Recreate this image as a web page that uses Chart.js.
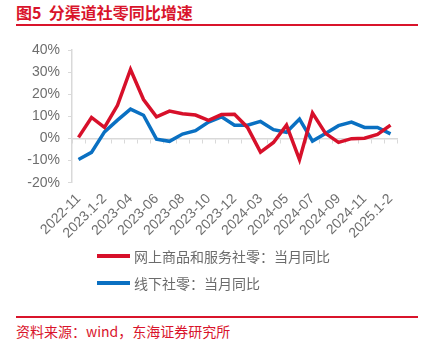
<!DOCTYPE html>
<html>
<head>
<meta charset="utf-8">
<script src="https://cdn.jsdelivr.net/npm/chart.js@4/dist/chart.umd.min.js"></script>
<style>
  html, body { margin: 0; padding: 0; background: #fff; }
  body { width: 429px; height: 340px; position: relative; overflow: hidden;
         font-family: "Noto Sans CJK SC", "Liberation Sans", sans-serif; }
  #title { position: absolute; left: 16px; top: 1px; font-size: 16px; font-weight: bold;
           color: #d9142b; white-space: pre; line-height: 22px; }
  .rule { position: absolute; left: 16px; width: 402px; height: 1.5px; background: #d9142b; }
  #chartBox { position: absolute; left: 0; top: 0; width: 429px; height: 250px; }
  #legend { position: absolute; left: 97px; top: 243px; }
  .lg-item { display: flex; align-items: center; height: 26.5px; font-size: 14px; color: #6b6b6b; }
  .lg-swatch { width: 33px; height: 4px; margin-right: 4px; }
  #source { position: absolute; left: 16px; top: 321px; font-size: 14px; color: #d9142b;
            line-height: 20px; white-space: pre; }
</style>
</head>
<body>
<div id="title">图5  分渠道社零同比增速</div>
<div class="rule" style="top:24px"></div>
<div id="chartBox"><canvas id="c" width="429" height="250"></canvas></div>
<div id="legend"></div>
<div class="rule" style="top:316px"></div>
<div id="source">资料来源：wind，东海证券研究所</div>
<script>
// Months (Jan–Feb are reported together)
const categories = [
  '2022-11', '2022-12', '2023.1-2', '2023-03', '2023-04', '2023-05', '2023-06',
  '2023-07', '2023-08', '2023-09', '2023-10', '2023-11', '2023-12', '2024.1-2',
  '2024-03', '2024-04', '2024-05', '2024-06', '2024-07', '2024-08', '2024-09',
  '2024-10', '2024-11', '2024-12', '2025.1-2'
];

// Year-on-year growth, %
const onlineYoY = [
  0.5, 9.5, 5.0, 15.0, 31.2, 17.6, 9.8, 12.4, 11.2, 10.6, 8.2, 10.8, 10.9,
  5.0, -6.2, -1.8, 6.0, -9.6, 11.5, 2.3, -1.8, -0.1, 0.1, 1.8, 6.0
];
const offlineYoY = [
  -9.5, -6.3, 3.0, 8.3, 13.3, 10.5, -0.3, -1.3, 2.0, 3.5, 7.4, 9.8, 6.0,
  6.0, 7.7, 4.0, 2.8, 8.8, -1.2, 2.3, 5.8, 7.4, 5.0, 5.0, 2.1
];

const seriesNames = ['网上商品和服务社零：当月同比', '线下社零：当月同比'];
const seriesColors = ['#d7102a', '#0a70c2'];

const yTicks = { min: -20, max: 40, step: 10 };

const axisGrey = '#d9d9d9';
const textGrey = '#6e6e6e';
const tickFont = { family: 'Liberation Sans, Arial, sans-serif', size: 14 };

const chart = new Chart(document.getElementById('c'), {
  type: 'line',
  data: {
    labels: categories,
    datasets: [
      { label: seriesNames[0], data: onlineYoY, borderColor: seriesColors[0],
        backgroundColor: seriesColors[0], xAxisID: 'x' },
      { label: seriesNames[1], data: offlineYoY, borderColor: seriesColors[1],
        backgroundColor: seriesColors[1], xAxisID: 'x' }
    ]
  },
  options: {
    responsive: false,
    animation: false,
    devicePixelRatio: 1,
    layout: { padding: { top: 50, right: 32, left: 0, bottom: 0 } },
    elements: {
      line: { borderWidth: 3.5, tension: 0, borderCapStyle: 'butt', borderJoinStyle: 'miter' },
      point: { radius: 0, hoverRadius: 0 }
    },
    plugins: { legend: { display: false }, tooltip: { enabled: false } },
    scales: {
      x: {
        type: 'category',
        position: 'bottom',
        offset: true,
        grid: { display: false, drawTicks: false },
        border: { display: false },
        ticks: {
          autoSkip: false,
          maxRotation: 45,
          minRotation: 45,
          padding: 8,
          color: textGrey,
          font: tickFont,
          callback: function (v, i) { return i % 2 === 0 ? categories[i] : ''; }
        },
        afterFit: function (s) { s.height = 67.3; }
      },
      // zero line with its category tick marks
      xZero: {
        type: 'category',
        position: { y: 0 },
        offset: true,
        grid: { display: true, offset: true, drawOnChartArea: false, drawTicks: true,
                tickLength: 4, color: axisGrey, lineWidth: 1 },
        border: { display: true, color: axisGrey, width: 1.5 },
        ticks: { display: false }
      },
      y: {
        min: yTicks.min,
        max: yTicks.max,
        grid: { display: true, drawOnChartArea: false, drawTicks: true,
                tickLength: 4, color: axisGrey },
        border: { display: true, color: axisGrey, width: 1.5 },
        ticks: {
          stepSize: yTicks.step,
          padding: 8,
          color: textGrey,
          font: tickFont,
          callback: function (v) { return v + '%'; }
        },
        afterFit: function (s) { s.width = 72; }
      }
    }
  }
});

// legend built from the chart's own datasets
const legend = document.getElementById('legend');
chart.data.datasets.forEach(function (ds) {
  const row = document.createElement('div');
  row.className = 'lg-item';
  const sw = document.createElement('span');
  sw.className = 'lg-swatch';
  sw.style.background = ds.borderColor;
  const tx = document.createElement('span');
  tx.textContent = ds.label;
  row.appendChild(sw);
  row.appendChild(tx);
  legend.appendChild(row);
});
</script>
</body>
</html>
